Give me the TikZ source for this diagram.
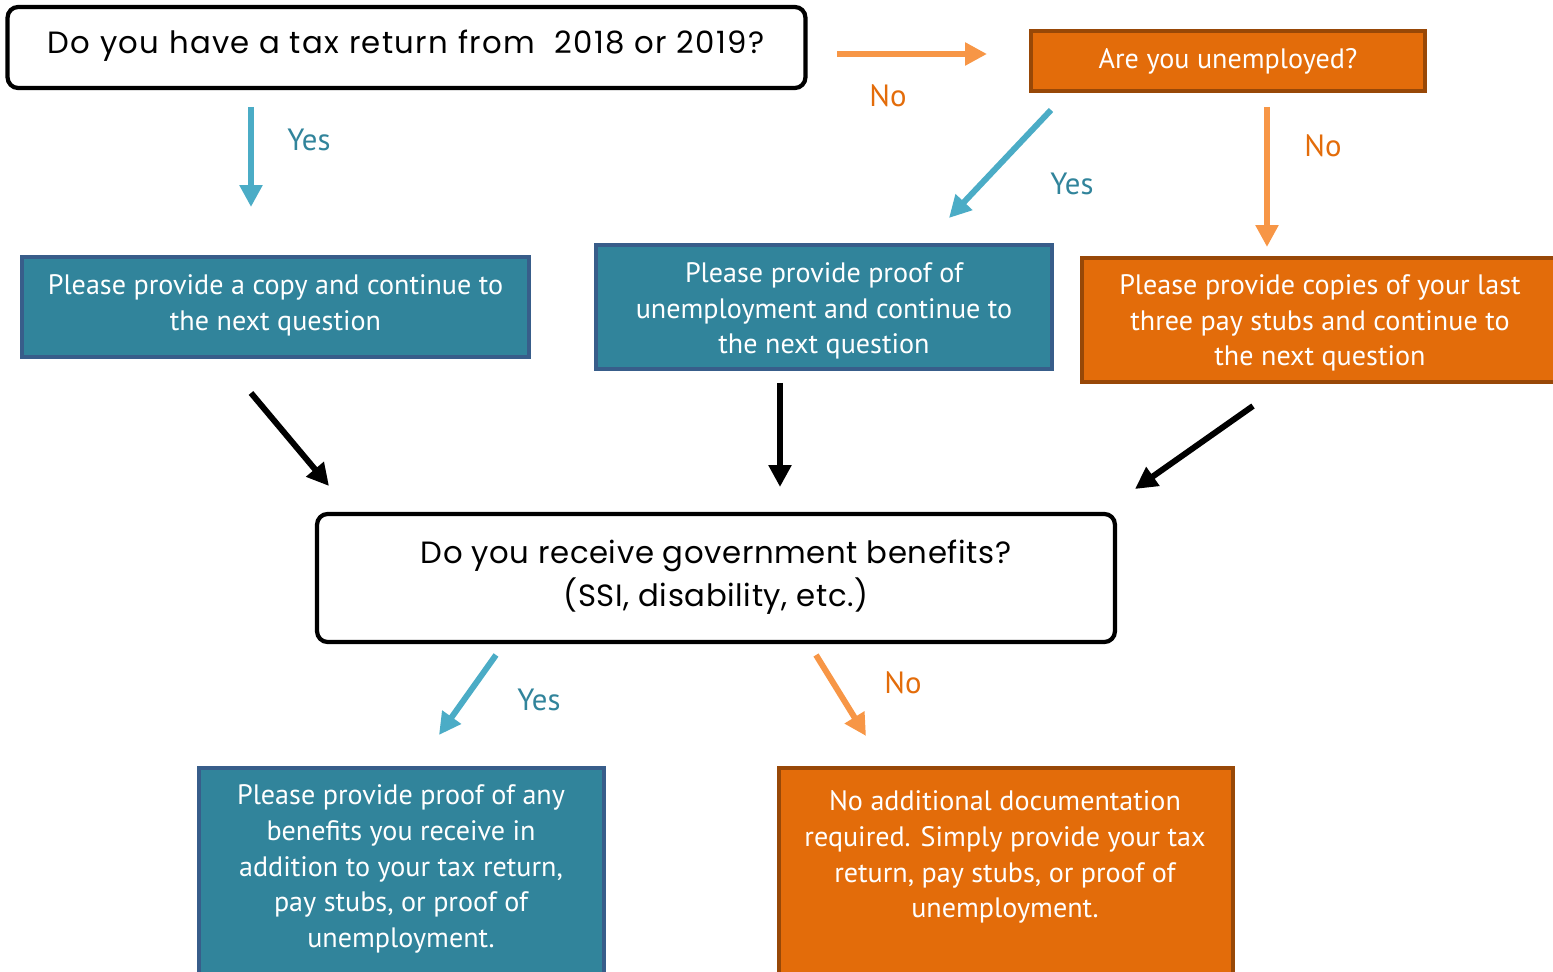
\documentclass[tikz,border=0pt]{standalone}
\usepackage{fontspec}
\setmainfont{PT Sans}
\newfontfamily\geofont{Poppins}[LetterSpace=2]
\usetikzlibrary{arrows.meta}
\definecolor{teal1}{HTML}{31849B}
\definecolor{tealedge}{HTML}{385D8A}
\definecolor{orange1}{HTML}{E36C0A}
\definecolor{orangeedge}{HTML}{984807}
\definecolor{orangearrow}{HTML}{F79646}
\definecolor{bluearrow}{HTML}{4BACC6}
\tikzset{
  question/.style={draw=black, line width=2.4pt, rounded corners=6pt, fill=white, inner sep=0pt},
  qtext/.style={align=center, inner sep=0pt, font=\geofont\fontsize{17.5}{24.5}\selectfont},
  boxtext/.style={text=white, inner sep=0pt, align=center, font=\fontsize{16}{20.4}\selectfont},
  tealbox/.style={draw=tealedge, line width=1.8pt, fill=teal1, inner sep=0pt},
  orangebox/.style={draw=orangeedge, line width=1.8pt, fill=orange1, inner sep=0pt},
  harrow/.style={line width=3.4pt, -{Triangle[length=12.5pt,width=12.5pt]}},
  yesarrow/.style={harrow, draw=bluearrow},
  noarrow/.style={harrow, draw=orangearrow},
  blackarrow/.style={harrow, draw=black},
  yeslabel/.style={text=teal1, font=\fontsize{17.5}{20}\selectfont},
  nolabel/.style={text=orange1, font=\fontsize{17.5}{20}\selectfont},
}
\begin{document}
\begin{tikzpicture}[x=0.02cm, y=-0.02cm]
\useasboundingbox (0,0) rectangle (1553,972);
\clip (0,0) rectangle (1553,972);
% boxes
\node[question, minimum width=15.96cm, minimum height=1.62cm] (q1) at (406.5,47.5) {};
\node[qtext, font=\geofont\fontsize{17.5}{24.5}\selectfont\addfontfeature{LetterSpace=4.5}] (q1t) at (406,46) {Do you have a tax return from\ \ 2018 or 2019?};
\node[orangebox, minimum width=7.88cm, minimum height=1.2cm] (unemp) at (1228,61) {};
\node[boxtext] (unempt) at (1228,61) {Are you unemployed?};
\node[tealbox, minimum width=10.14cm, minimum height=2.0cm] (copy) at (275.5,307) {};
\node[boxtext] (copyt) at (275.5,305) {Please provide a copy and continue to\\the next question};
\node[tealbox, minimum width=9.12cm, minimum height=2.48cm] (proof) at (824,307) {};
\node[boxtext] (prooft) at (824,311) {Please provide proof of\\unemployment and continue to\\the next question};
\node[orangebox, minimum width=9.52cm, minimum height=2.48cm] (stubs) at (1320,320) {};
\node[boxtext] (stubst) at (1320,323) {Please provide copies of your last\\three pay stubs and continue to\\the next question};
\node[question, minimum width=15.96cm, minimum height=2.56cm] (q2) at (716,578) {};
\node[qtext] (q2t) at (716,577) {Do you receive government benefits?\\(SSI, disability, etc.)};
\node[tealbox, minimum width=8.1cm, minimum height=4.8cm] (benef) at (401.5,888) {};
\node[boxtext] (beneft) at (401,869) {Please provide proof of any\\benefits you receive in\\addition to your tax return,\\pay stubs, or proof of\\unemployment.};
\node[orangebox, minimum width=9.08cm, minimum height=4.8cm] (nodoc) at (1006,888) {};
\node[boxtext] (nodoct) at (1005,857) {No additional documentation\\required. Simply provide your tax\\return, pay stubs, or proof of\\unemployment.};
% arrow end points
\coordinate (a1s) at (837,54); \coordinate (a1e) at (987,54);
\coordinate (a2s) at (251,107); \coordinate (a2e) at (251,207);
\coordinate (a3s) at (1051,110); \coordinate (a3e) at (949,218);
\coordinate (a4s) at (1267,107); \coordinate (a4e) at (1267,247);
\coordinate (b1s) at (251,393); \coordinate (b1e) at (329,486);
\coordinate (b2s) at (780,383); \coordinate (b2e) at (780,487);
\coordinate (b3s) at (1253,406); \coordinate (b3e) at (1135,489);
\coordinate (c1s) at (496,655); \coordinate (c1e) at (439,735);
\coordinate (c2s) at (816,655); \coordinate (c2e) at (866,736);
% arrows
\draw[noarrow] (a1s) -- (a1e);
\draw[yesarrow] (a2s) -- (a2e);
\draw[yesarrow] (a3s) -- (a3e);
\draw[noarrow] (a4s) -- (a4e);
\draw[blackarrow] (b1s) -- (b1e);
\draw[blackarrow] (b2s) -- (b2e);
\draw[blackarrow] (b3s) -- (b3e);
\draw[yesarrow] (c1s) -- (c1e);
\draw[noarrow] (c2s) -- (c2e);
% labels
\node[nolabel] (l1) at (888,96) {No};
\node[yeslabel] (l2) at (309,140) {Yes};
\node[yeslabel] (l3) at (1072,184) {Yes};
\node[nolabel] (l4) at (1323,146) {No};
\node[yeslabel] (l5) at (539,700) {Yes};
\node[nolabel] (l6) at (903,683) {No};
\end{tikzpicture}
\end{document}
